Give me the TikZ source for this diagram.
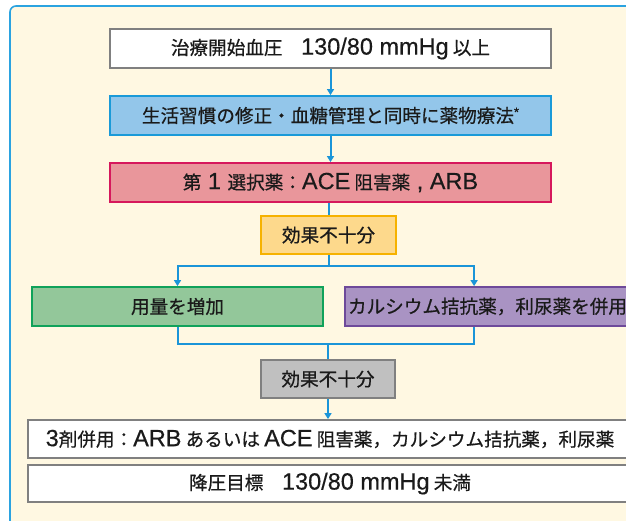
\documentclass[tikz,border=0pt]{standalone}
\usepackage{fontspec}
\setmainfont{Noto Sans CJK JP}[FakeBold=0.6]
\newfontfamily\latf{Liberation Sans}[FakeBold=0.4]
\newcommand\la[1]{{\latf\fontsize{23.5}{25}\selectfont #1}}
\usetikzlibrary{arrows.meta}
\definecolor{cream}{HTML}{FFF8E2}
\definecolor{panelblue}{HTML}{2BA3E0}
\definecolor{linkblue}{HTML}{1B95D8}
\definecolor{graybd}{HTML}{808080}
\definecolor{bluefill}{HTML}{93C6EA}
\definecolor{bluebd}{HTML}{1A9AD8}
\definecolor{pinkfill}{HTML}{E9969B}
\definecolor{pinkbd}{HTML}{D6185C}
\definecolor{yelfill}{HTML}{FDD98C}
\definecolor{yelbd}{HTML}{F6B200}
\definecolor{grnfill}{HTML}{93C79A}
\definecolor{grnbd}{HTML}{10A25A}
\definecolor{purfill}{HTML}{A993C3}
\definecolor{purbd}{HTML}{6E4A9A}
\definecolor{gryfill}{HTML}{C0C0C0}
\definecolor{txt}{HTML}{1A1A1A}
\begin{document}
\begin{tikzpicture}[x=1pt,y=-1pt,
  box/.style={rectangle, line width=1.8pt, inner sep=0pt, text=txt,
    font=\fontsize{18.6}{21}\selectfont},
  whitebox/.style={box, draw=graybd, fill=white},
  conn/.style={draw=linkblue, line width=2pt},
  arr/.style={conn, -{Triangle[width=7pt,length=6pt]}}]
\useasboundingbox (0,0) rectangle (626,521);
\clip (0,0) rectangle (626,521);
\fill[white] (0,0) rectangle (626,521);
\draw[fill=cream, draw=panelblue, line width=1.6pt, rounded corners=6pt] (10,6) rectangle (700,600);

\node[whitebox, minimum width=441pt, minimum height=39pt] (n1) at (330.5,48.5)
  {治療開始血圧　\la{130/80 mmHg} 以上};
\node[box, draw=bluebd, fill=bluefill, minimum width=441pt, minimum height=39pt] (n2) at (330.5,115.5)
  {生活習慣の修正・血糖管理と同時に薬物療法{\latf\fontsize{13}{13}\selectfont\raisebox{6pt}{*}}};
\node[box, draw=pinkbd, fill=pinkfill, minimum width=441pt, minimum height=39pt] (n3) at (330.5,182.5)
  {第\la{ 1 }選択薬：\la{ACE} 阻害薬\la{ , ARB}};
\node[box, draw=yelbd, fill=yelfill, minimum width=135pt, minimum height=38pt] (n4) at (328.5,235)
  {効果不十分};
\node[box, draw=grnbd, fill=grnfill, minimum width=291pt, minimum height=39pt] (n5) at (177.5,306.5)
  {用量を増加};
\node[box, draw=purbd, fill=purfill, minimum width=295pt, minimum height=39pt,
  text width=289pt, align=left] (n6) at (492.5,306.5)
  {カルシウム拮抗薬，利尿薬を併用};
\node[box, draw=graybd, fill=gryfill, minimum width=134pt, minimum height=38pt] (n7) at (328,379)
  {効果不十分};
\node[whitebox, minimum width=604pt, minimum height=38pt] (n8) at (330,439)
  {\la{3}剤併用：\la{ARB} あるいは \la{ACE} 阻害薬，カルシウム拮抗薬，利尿薬};
\node[whitebox, minimum width=604pt, minimum height=37pt] (n9) at (330,483.5)
  {降圧目標　\la{130/80 mmHg} 未満};

\coordinate (j1) at (328.5,266);
\coordinate (j2) at (328,344);

\draw[arr] (n1) -- (n2);
\draw[arr] (n2) -- (n3);
\draw[conn] (n3.south -| n4.north) -- (n4.north);
\draw[conn] (n4) -- (j1);
\draw[arr] (j1) -| (n5.north);
\draw[arr] (j1) -| ([xshift=130pt]n6.north west);
\draw[conn] (n5.south) |- (j2);
\draw[conn] ([xshift=130pt]n6.south west) |- (j2);
\draw[conn] (j2) -- (n7.north);
\draw[arr] (n7.south) -- (n7.south |- n8.north);
\end{tikzpicture}
\end{document}
